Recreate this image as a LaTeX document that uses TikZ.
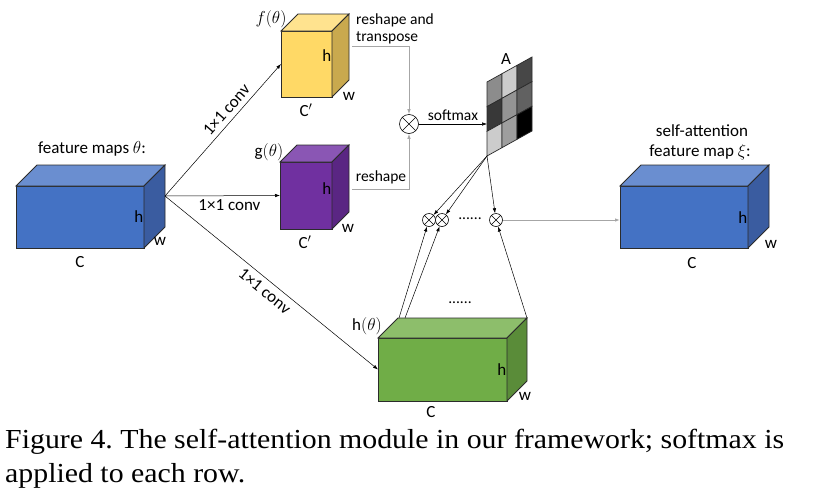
\documentclass[tikz,border=0pt]{standalone}
\usepackage{fontspec}
\setmainfont{Carlito}
\newfontfamily\capfont[FakeStretch=1.085]{Liberation Serif}
\usetikzlibrary{arrows.meta,calc}
\frenchspacing
\definecolor{edgec}{HTML}{2B2B2B}
\definecolor{bfront}{HTML}{4472C4}
\definecolor{btop}{HTML}{6A8ED0}
\definecolor{bside}{HTML}{3A5CA0}
\definecolor{yfront}{HTML}{FFD966}
\definecolor{ytop}{HTML}{FFE38F}
\definecolor{yside}{HTML}{C9A94E}
\definecolor{pfront}{HTML}{7030A0}
\definecolor{ptop}{HTML}{8A56B4}
\definecolor{pside}{HTML}{5A2683}
\definecolor{gfront}{HTML}{70AD47}
\definecolor{gtop}{HTML}{8DBE6B}
\definecolor{gside}{HTML}{5A8C39}
\newcommand\cuboid[9]{%
  \node[draw=edgec, line width=0.8pt, fill=#7, minimum width=#4pt, minimum height=#5pt,
        inner sep=0pt, outer sep=0pt, anchor=north west] (#1) at (#2,#3) {};
  \draw[edgec, line width=0.8pt, fill=#8] (#1.north west) -- ++(#6,-#6) -- ++(#4,0) -- (#1.north east) -- cycle;
  \draw[edgec, line width=0.8pt, fill=#9] (#1.north east) -- ++(#6,-#6) -- ++(0,#5) -- (#1.south east) -- cycle;
}
\tikzset{
  lbl/.style={font=\fontsize{17}{19}\selectfont, inner sep=0pt},
  slbl/.style={font=\fontsize{15.5}{18}\selectfont, inner sep=0pt},
  conn/.style={line width=0.5pt, -{Latex[length=5pt,width=3.5pt]}},
  gconn/.style={line width=0.9pt, gray!70, -{Latex[length=5pt,width=3.5pt]}},
  otimes/.style={circle, draw, line width=0.6pt, fill=white, minimum size=#1, inner sep=0pt,
    path picture={\draw[line width=0.6pt] (path picture bounding box.north west) -- (path picture bounding box.south east)
      (path picture bounding box.north east) -- (path picture bounding box.south west);}},
}
\begin{document}
\begin{tikzpicture}[x=1pt,y=-1pt]
\useasboundingbox (0,0) rectangle (835,501);
\fill[white] (0,0) rectangle (835,501);
% boxes
\cuboid{bl}{16}{186}{128}{62}{21}{bfront}{btop}{bside}
\cuboid{fy}{281}{31}{51}{66}{17}{yfront}{ytop}{yside}
\cuboid{gp}{280}{162}{52}{67}{17}{pfront}{ptop}{pside}
\cuboid{hg}{378}{338}{129}{63}{20}{gfront}{gtop}{gside}
\cuboid{br}{620}{186}{128}{62}{21}{bfront}{btop}{bside}
% box labels
\node[lbl] (tfm) at (92,149) {feature maps $\theta$:};
\node[lbl, anchor=east] (blh) at (143.5,217) {h};
\node[lbl] (blw) at (160,241) {w};
\node[lbl] (blc) at (80,262) {C};
\node[lbl] (fyt) at (271,19) {$f(\theta)$};
\node[lbl, anchor=east] (fyh) at (331.5,56) {h};
\node[lbl] (fyw) at (349,96) {w};
\node[lbl] (fyc) at (306,110) {C$'$};
\node[lbl] (gpt) at (269,152) {g$(\theta)$};
\node[lbl, anchor=east] (gph) at (331.5,189) {h};
\node[lbl] (gpw) at (348,228) {w};
\node[lbl] (gpc) at (305,242) {C$'$};
\node[lbl] (hgt) at (367,326) {h$(\theta)$};
\node[lbl, anchor=east] (hgh) at (506.5,370) {h};
\node[lbl] (hgw) at (525,396) {w};
\node[lbl] (hgc) at (431,412) {C};
\node[lbl] (brt1) at (702,131) {self-attention};
\node[lbl] (brt2) at (700,152) {feature map $\xi$:};
\node[lbl, anchor=east] (brh) at (747.5,218) {h};
\node[lbl] (brw) at (771,244) {w};
\node[lbl] (brc) at (692,263) {C};
% source point on blue box
\coordinate (src) at ($(bl.east)+(21,-21)$);
\draw[conn] (src) -- (fy.west) node[lbl, pos=0.6, sloped, above=5pt] (l1) {1×1 conv};
\draw[conn] (src) -- (gp.west) node[lbl, pos=0.56, below=4pt] (l2) {1×1 conv};
\draw[conn] (src) -- (hg.west) node[lbl, pos=0.5, sloped, below=5pt] (l3) {1×1 conv};
% multiplication and attention
\node[otimes=19pt] (m1) at (409,124) {};
\node[slbl, anchor=west] (rt1) at (356,20) {reshape and};
\node[slbl, anchor=west] (rt2) at (356,38) {transpose};
\node[slbl] (rs) at (381,177) {reshape};
\coordinate (fyo) at (352,46);
\coordinate (gpo) at (352,189);
\draw[gconn, line width=0.8pt] (fyo) -| (m1.north);
\draw[gconn, line width=0.8pt] (gpo) -| (m1.south);
% matrix A
\foreach \i/\j/\k in {0/0/45, 0/1/20, 0/2/72, 1/0/78, 1/1/42, 1/2/62, 2/0/20, 2/1/38, 2/2/100}{
  \filldraw[draw=edgec, line width=0.7pt, fill=black!\k] (487+15*\j, 82-8.333*\j+24.667*\i) -- ++(15,-8.333) -- ++(0,24.667) -- ++(-15,8.333) -- cycle;
}
\node[lbl] (An) at (506,59) {A};
\coordinate (Aw) at (487,124);
\coordinate (Abl) at (487,156);
\draw[conn] (m1.east) -- (Aw) node[slbl, midway, above=3pt] (sm) {softmax};
% small products
\node[otimes=13pt] (x1) at (429,220) {};
\node[otimes=13pt] (x2) at (442,220) {};
\node[otimes=13pt] (x3) at (496,220) {};
\node[slbl] (d1) at (470,219) {......};
\node[slbl] (d2) at (460,303) {......};
\draw[conn] (Abl) -- (x1);
\draw[conn] (Abl) -- (x2);
\draw[conn] (Abl) -- (x3);
\coordinate (hg1) at (399,318);
\coordinate (hg2) at (405,318);
\coordinate (hg3) at (527,318);
\draw[conn] (hg1) -- (x1);
\draw[conn] (hg2) -- (x2);
\draw[conn] (hg3) -- (x3);
\draw[gconn] (x3) -- (x3 -| br.west);
% caption
\node[anchor=base west, inner sep=0pt, font=\capfont\fontsize{27.5}{34}\selectfont] (cap1) at (5,448) {Figure 4. The self-attention module in our framework; softmax is};
\node[anchor=base west, inner sep=0pt, font=\capfont\fontsize{27.5}{34}\selectfont] (cap2) at (5,482) {applied to each row.};
\end{tikzpicture}
\end{document}
